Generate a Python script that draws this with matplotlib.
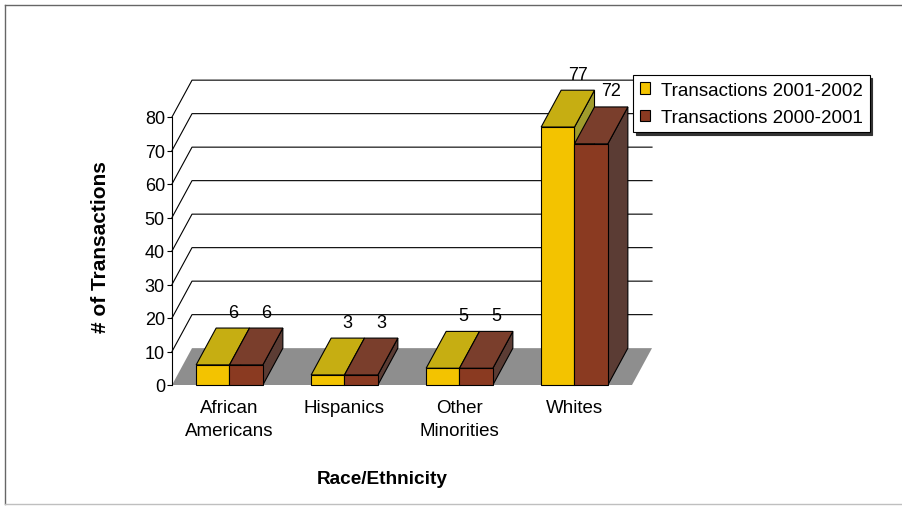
import numpy as np
import matplotlib.pyplot as plt
from matplotlib.patches import Polygon, Patch
from matplotlib.lines import Line2D

plt.rcParams['font.family'] = ['Liberation Sans', 'DejaVu Sans']

categories = ['African\nAmericans', 'Hispanics', 'Other\nMinorities', 'Whites']
tx_0102 = [6, 3, 5, 77]
tx_0001 = [6, 3, 5, 72]
series_names = ['Transactions 2001-2002', 'Transactions 2000-2001']
yticks = np.arange(0, 90, 10)

# colours: front, top, side of each series
yellow = ['#F3C300', '#C6AE12', '#A09C2C']
brown = ['#8A3A21', '#7A3E2C', '#5B3C34']
floor_col = '#8E8E8E'

# oblique depth of the fake 3d box (x in category units, y in value units)
DX = 0.174
DY = 11.0
BW = 0.29

fig = plt.figure(figsize=(9.03, 5.10), dpi=100)
ax = fig.add_axes([172/903, 124/510, 460/903, 268/510])
ax.set_xlim(0, 4)
ax.set_ylim(0, 80)
n = len(categories)

# back wall grid + side diagonals
for v in yticks[1:]:
    ax.plot([0, DX, n + DX], [v, v + DY, v + DY], color='black', lw=0.8,
            clip_on=False, zorder=1)

# floor
ax.add_patch(Polygon([(0, 0), (n, 0), (n + DX, DY), (DX, DY)], closed=True,
                     fc=floor_col, ec='none', clip_on=False, zorder=1.5))


def box(x0, h, cols):
    front = [(x0, 0), (x0 + BW, 0), (x0 + BW, h), (x0, h)]
    top = [(x0, h), (x0 + BW, h), (x0 + BW + DX, h + DY), (x0 + DX, h + DY)]
    side = [(x0 + BW, 0), (x0 + BW + DX, DY), (x0 + BW + DX, h + DY), (x0 + BW, h)]
    for pts, c in zip([side, top, front], [cols[2], cols[1], cols[0]]):
        ax.add_patch(Polygon(pts, closed=True, fc=c, ec='black', lw=0.8,
                             clip_on=False, zorder=3))
    ax.annotate(str(h), xy=(x0 + BW / 2 + DX, h + DY), xytext=(0, 11.5),
                textcoords='offset points', ha='center', va='center',
                fontsize=13, zorder=5, annotation_clip=False)


centers = np.arange(n) + 0.5
for i in range(n):
    box(centers[i] - BW, tx_0102[i], yellow)
    box(centers[i], tx_0001[i], brown)

# axes cosmetics
for s in ['top', 'right', 'bottom']:
    ax.spines[s].set_visible(False)
ax.spines['left'].set_linewidth(0.8)
ax.set_yticks(yticks)
ax.tick_params(axis='y', direction='out', length=3.6, width=0.8, pad=1.5, labelsize=13)
ax.set_xticks(centers)
ax.set_xticklabels(categories, linespacing=1.45)
ax.tick_params(axis='x', length=0, pad=10, labelsize=13.5)
ax.patch.set_visible(False)

fig.text(101/903, 1 - 247/510, '# of Transactions', rotation=90, fontsize=15,
         fontweight='bold', ha='center', va='center')
fig.text(382/903, 1 - 480/510, 'Race/Ethnicity', fontsize=13.7,
         fontweight='bold', ha='center', va='center')

handles = [Patch(fc=yellow[0], ec='black', lw=0.8), Patch(fc=brown[0], ec='black', lw=0.8)]
leg = fig.legend(handles, series_names, loc='upper left',
                 bbox_to_anchor=(633/903, 1 - 76/510), fontsize=13.5,
                 frameon=True, fancybox=False, shadow={'color': '0.2', 'alpha': 1},
                 handlelength=0.55, handleheight=0.55, handletextpad=0.6,
                 borderpad=0.35, labelspacing=0.55, borderaxespad=0)
leg.get_frame().set_edgecolor('black')
leg.get_frame().set_linewidth(0.8)

# outer chart frame
fig.add_artist(Line2D([5/903, 5/903], [1 - 6/510, 1 - 505/510], color='0.4', lw=1))
fig.add_artist(Line2D([5/903, 1], [1 - 6/510, 1 - 6/510], color='0.4', lw=1))
fig.add_artist(Line2D([5/903, 1], [1 - 505/510, 1 - 505/510], color='0.75', lw=1))

fig.savefig('out.png', dpi=100)
